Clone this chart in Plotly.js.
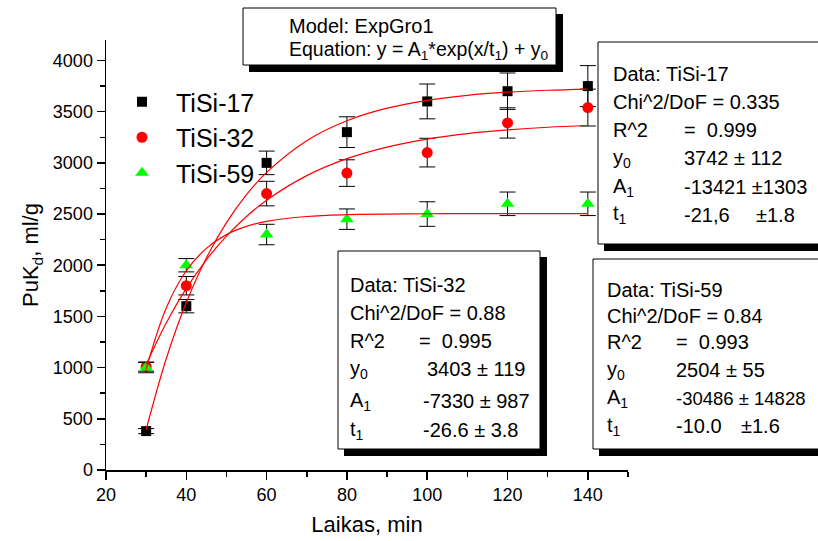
<!DOCTYPE html>
<html>
<head>
<meta charset="utf-8">
<script src="https://cdn.plot.ly/plotly-3.0.1.min.js"></script>
<style>html,body{margin:0;padding:0;background:#fff;}#chart{width:818px;height:541px;}</style>
</head>
<body>
<div id="chart"></div>
<script>
// ---- data ----
const seriesNames = ["TiSi-17", "TiSi-32", "TiSi-59"];
const timeMin = [30, 40, 60, 80, 100, 120, 140];
const tisi17 = [380, 1600, 3000, 3300, 3600, 3700, 3750];
const tisi17Err = [25, 65, 115, 150, 170, 178, 200];
const tisi32 = [1010, 1800, 2700, 2900, 3100, 3390, 3540];
const tisi32Err = [45, 90, 120, 130, 140, 148, 180];
const tisi59 = [1000, 2000, 2300, 2450, 2500, 2600, 2600];
const tisi59Err = [50, 65, 100, 100, 120, 115, 115];

// fitted ExpGro1 curves as drawn in the picture
const fitX = [30, 35, 40, 45, 50, 55, 60, 70, 80, 90, 100, 110, 120, 130, 140];
const fit17 = [395, 1087, 1636, 2071, 2416, 2690, 2907, 3217, 3411, 3534, 3611, 3660, 3690, 3709, 3721];
const fit32 = [1030, 1436, 1774, 2053, 2284, 2476, 2635, 2875, 3041, 3154, 3232, 3286, 3322, 3348, 3365];
const fit59 = [986, 1583, 1946, 2165, 2299, 2379, 2428, 2476, 2494, 2500, 2503, 2504, 2504, 2504, 2504];

const xTicks = [20, 40, 60, 80, 100, 120, 140];
const yTicks = [0, 500, 1000, 1500, 2000, 2500, 3000, 3500, 4000];

// ---- layout helpers (pixel -> paper) ----
const L = 106, R = 628, T = 40, B = 470;
const W = R - L, H = B - T;
const px = x => (x - L) / W;
const py = y => (B - y) / H;

const FONT = "Liberation Sans, Arial, Helvetica, sans-serif";

function errBar(arr) {
  return {type: 'data', array: arr, visible: true, color: '#000', thickness: 1, width: 8};
}

const traces = [
  {x: timeMin, y: tisi17, name: seriesNames[0], type: 'scatter', mode: 'markers', legendgroup: 'a',
   marker: {symbol: 'square', color: '#000', size: 10}, error_y: errBar(tisi17Err)},
  {x: timeMin, y: tisi32, name: seriesNames[1], type: 'scatter', mode: 'markers', legendgroup: 'b',
   marker: {symbol: 'circle', color: '#ff0000', size: 11}, error_y: errBar(tisi32Err)},
  {x: timeMin, y: tisi59, name: seriesNames[2], type: 'scatter', mode: 'markers', legendgroup: 'c',
   marker: {symbol: 'triangle-up', color: '#00ff00', size: 12}, error_y: errBar(tisi59Err)},
  {x: fitX, y: fit17, type: 'scatter', mode: 'lines', showlegend: false, hoverinfo: 'skip',
   line: {color: '#ff0000', width: 1.2, shape: 'spline'}},
  {x: fitX, y: fit32, type: 'scatter', mode: 'lines', showlegend: false, hoverinfo: 'skip',
   line: {color: '#ff0000', width: 1.2, shape: 'spline'}},
  {x: fitX, y: fit59, type: 'scatter', mode: 'lines', showlegend: false, hoverinfo: 'skip',
   line: {color: '#ff0000', width: 1.2, shape: 'spline'}}
];

// boxes: [left, top, right, bottom] in pixels
const boxes = [
  [243, 8, 556, 65],
  [598, 42, 830, 244],
  [338, 251, 540, 449],
  [593, 259, 830, 449]
];
const shapes = [];
boxes.forEach(b => {
  shapes.push({type: 'rect', xref: 'paper', yref: 'paper', layer: 'above',
    x0: px(b[0] + 6), x1: px(b[2] + 7), y0: py(b[1] + 6), y1: py(b[3] + 7),
    fillcolor: '#000', line: {width: 0}});
  shapes.push({type: 'rect', xref: 'paper', yref: 'paper', layer: 'above',
    x0: px(b[0]), x1: px(b[2]), y0: py(b[1]), y1: py(b[3]),
    fillcolor: '#fff', line: {color: '#000', width: 1}});
});

const BOX_FS = 20;
function label(x, y, text, size) {
  return {xref: 'paper', yref: 'paper', x: px(x), y: py(y), xanchor: 'left', yanchor: 'middle',
    text: text, showarrow: false, font: {family: FONT, size: size || BOX_FS, color: '#000'}};
}
const annotations = [
  label(287, 26, "Model: ExpGro1"),
  label(287, 51, "Equation: y = A<sub>1</sub>*exp(x/t<sub>1</sub>) + y<sub>0</sub>", 19.5),

  label(611, 74, "Data: TiSi-17"),
  label(611, 102, "Chi^2/DoF = 0.335"),
  label(611, 130, "R^2"), label(682, 130, "=  0.999"),
  label(611, 158, "y<sub>0</sub>"), label(682, 158, "3742 ± 112"),
  label(611, 187, "A<sub>1</sub>"), label(682, 187, "-13421 ±1303"),
  label(611, 215, "t<sub>1</sub>"), label(682, 215, "-21,6"), label(754, 215, "±1.8"),

  label(348, 285, "Data: TiSi-32"),
  label(348, 313, "Chi^2/DoF = 0.88"),
  label(348, 341, "R^2"), label(417, 341, "=  0.995"),
  label(348, 369, "y<sub>0</sub>"), label(425, 369, "3403 ± 119"),
  label(348, 401, "A<sub>1</sub>"), label(421, 401, "-7330 ± 987"),
  label(348, 430, "t<sub>1</sub>"), label(421, 430, "-26.6 ± 3.8"),

  label(605, 290, "Data: TiSi-59"),
  label(605, 316, "Chi^2/DoF = 0.84"),
  label(605, 342, "R^2"), label(674, 342, "=  0.993"),
  label(605, 370, "y<sub>0</sub>"), label(674, 370, "2504 ± 55"),
  label(605, 398, "A<sub>1</sub>"), label(674, 398, "-30486 ± 14828", 18.5),
  label(605, 426, "t<sub>1</sub>"), label(674, 426, "-10.0"), label(739, 426, "±1.6")
];

const layout = {
  width: 818, height: 541,
  margin: {l: L, r: 818 - R, t: T, b: 541 - B, pad: 0},
  paper_bgcolor: '#fff', plot_bgcolor: '#fff',
  font: {family: FONT, color: '#000', size: 18},
  showlegend: true,
  legend: {x: px(108), y: py(79), xanchor: 'left', yanchor: 'top', bgcolor: 'rgba(0,0,0,0)',
    borderwidth: 0, font: {family: FONT, size: 25, color: '#000'}, tracegroupgap: 0, itemwidth: 58},
  xaxis: {
    range: [20, 150], tickvals: xTicks, ticktext: xTicks.map(String),
    showline: true, linecolor: '#000', linewidth: 1.5, mirror: false,
    ticks: 'outside', ticklen: 8, tickwidth: 1.5, tickcolor: '#000',
    minor: {ticks: 'outside', ticklen: 5, tickwidth: 1.5, tickcolor: '#000', dtick: 10, tick0: 20, showgrid: false},
    showgrid: false, zeroline: false,
    tickfont: {family: FONT, size: 18, color: '#000'},
    title: {text: "Laikas, min", font: {family: FONT, size: 22, color: '#000'}, standoff: 12}
  },
  yaxis: {
    range: [0, 4200], tickvals: yTicks, ticktext: yTicks.map(String),
    showline: true, linecolor: '#000', linewidth: 1.5, mirror: false,
    ticks: 'outside', ticklen: 8, tickwidth: 1.5, tickcolor: '#000',
    minor: {ticks: 'outside', ticklen: 5, tickwidth: 1.5, tickcolor: '#000', dtick: 250, tick0: 0, showgrid: false},
    showgrid: false, zeroline: false,
    tickfont: {family: FONT, size: 18, color: '#000'},
    title: {text: "PuK<sub>d</sub>, ml/g", font: {family: FONT, size: 22, color: '#000'}, standoff: 8}
  },
  shapes: shapes,
  annotations: annotations
};

Plotly.newPlot('chart', traces, layout, {staticPlot: true, displayModeBar: false});
</script>
</body>
</html>
